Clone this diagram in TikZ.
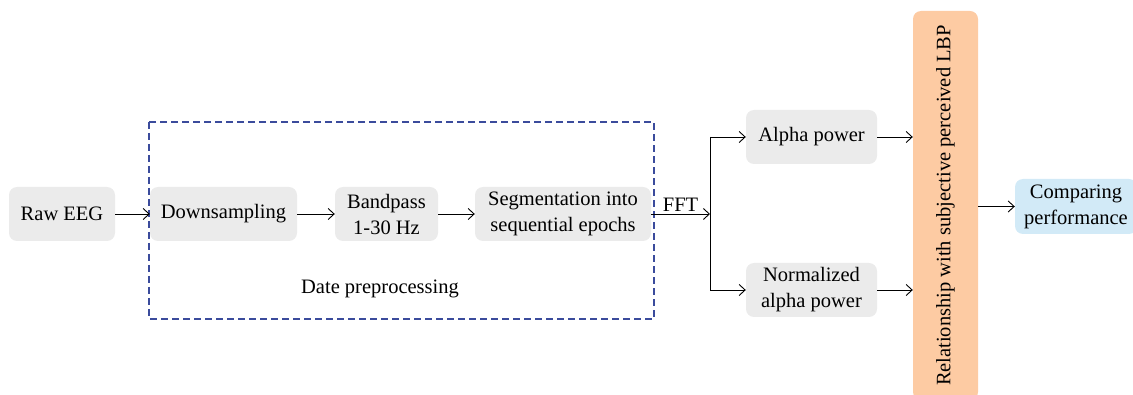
\documentclass[tikz,border=0pt]{standalone}
\usepackage{fontspec}
\setmainfont{Liberation Serif}
\usetikzlibrary{arrows.meta}
\definecolor{boxgray}{HTML}{EBEBEB}
\definecolor{barorange}{HTML}{FDCBA3}
\definecolor{boxblue}{HTML}{D2EAF7}
\definecolor{dashblue}{HTML}{3B4B9C}
\begin{document}
\begin{tikzpicture}[x=1pt,y=-1pt,font=\fontsize{20.5}{26}\selectfont,
  stage/.style={fill=boxgray, rounded corners=8pt, inner sep=0pt, align=center, minimum height=54},
  flow/.style={-{Straight Barb[length=6pt,width=11pt]}, line width=0.9pt}]
\useasboundingbox (0,0) rectangle (1133,395);
\node[stage, minimum width=106] (Raw) at (62,214) {Raw EEG};
\node[stage, minimum width=147] (Down) at (223.5,214) {Downsampling};
\node[stage, minimum width=103] (Band) at (386.5,214) {Bandpass\\1-30 Hz};
\node[stage, minimum width=176] (Seg) at (563,214) {Segmentation into\\sequential epochs};
\draw[dashblue, line width=1.1pt, dash pattern=on 7pt off 4pt] (149,122) rectangle (654,319);
\node (Pre) at (380,289) {Date preprocessing};
\coordinate (Split) at (710,214);
\node[stage, minimum width=131] (Alpha) at (811.5,137) {Alpha power};
\node[stage, minimum width=131] (Norm) at (811.5,290) {Normalized\\alpha power};
\node[fill=barorange, rounded corners=8pt, rotate=90, minimum width=389, minimum height=65, inner sep=0pt] (Rel) at (945.5,205.5) {Relationship with subjective perceived LBP};
\node[stage, fill=boxblue, minimum width=122, minimum height=55] (Comp) at (1076,206.5) {Comparing\\performance};
\draw[flow] (Raw) -- (Down);
\draw[flow] (Down) -- (Band);
\draw[flow] (Band) -- (Seg);
\draw[flow] (Seg) -- (Split) node[midway, above, inner sep=2pt] {FFT};
\draw[line width=0.9pt] (Split |- Alpha) -- (Split |- Norm);
\draw[flow] (Split |- Alpha) -- (Alpha);
\draw[flow] (Split |- Norm) -- (Norm);
\draw[flow] (Alpha) -- (Alpha -| Rel.north);
\draw[flow] (Norm) -- (Norm -| Rel.north);
\draw[flow] (Rel.south |- Comp) -- (Comp);
\end{tikzpicture}
\end{document}
